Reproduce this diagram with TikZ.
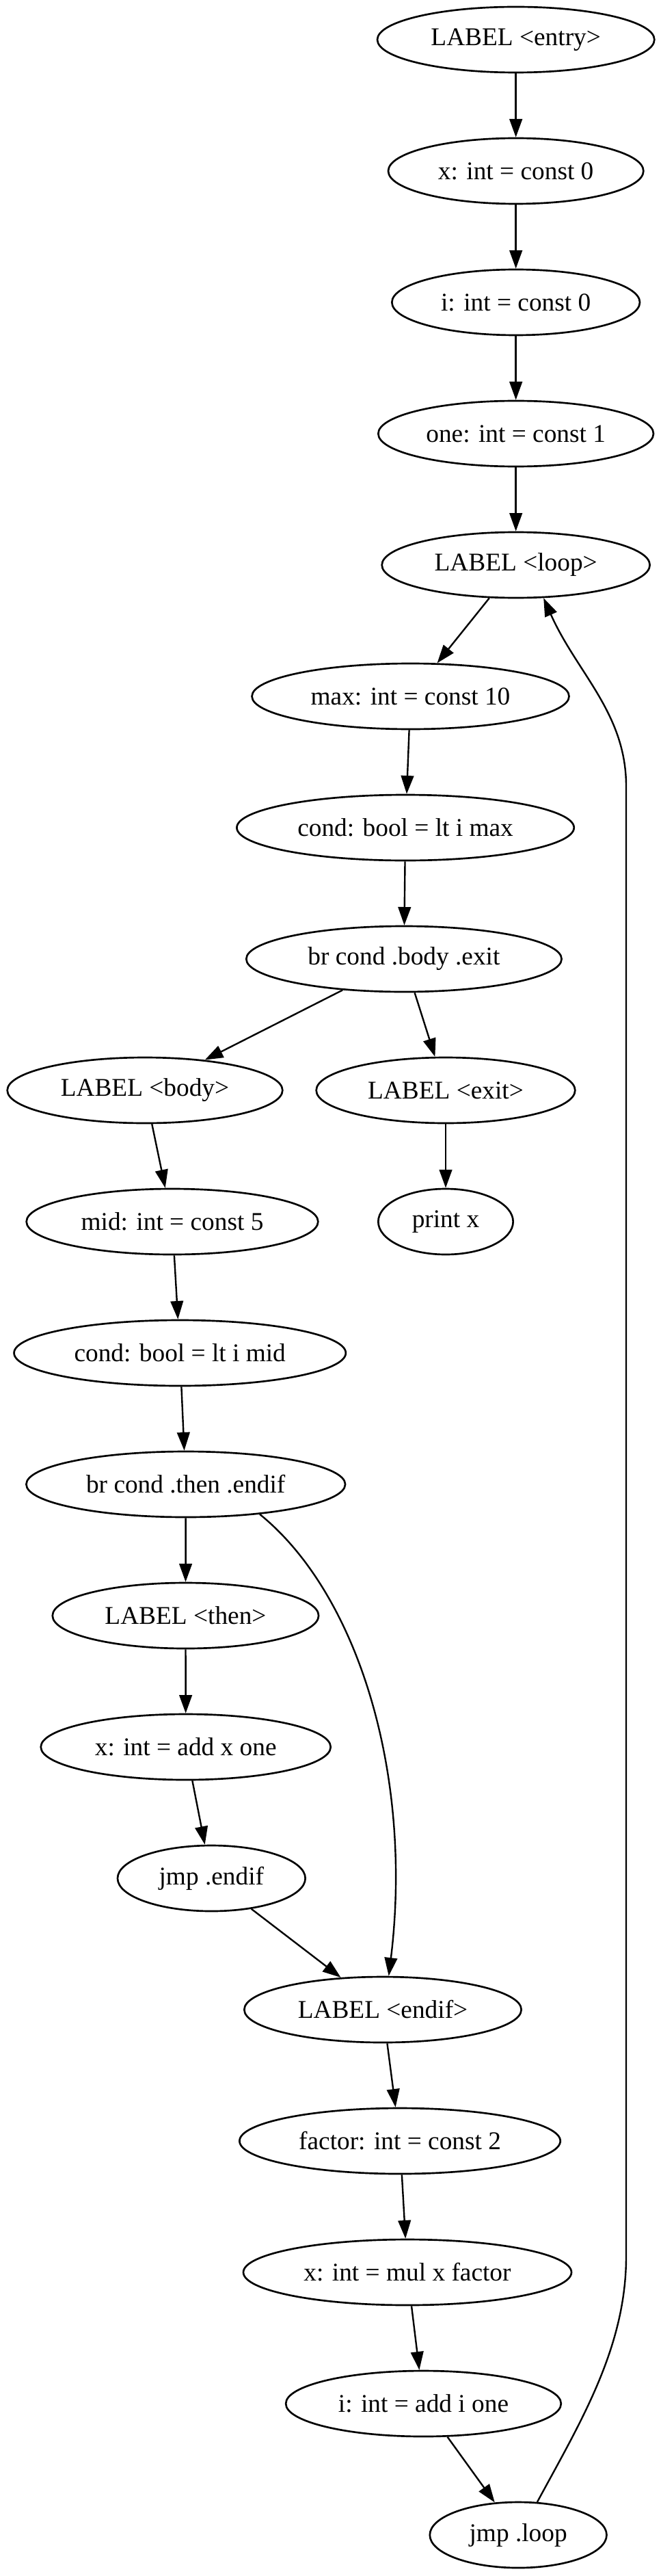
\documentclass[tikz,border=0pt]{standalone}
\usepackage{fontspec}
\setmainfont{Liberation Serif}
\usetikzlibrary{arrows.meta,shapes.geometric}

\begin{document}
\begin{tikzpicture}[x=1pt,y=1pt]
    \tikzset{
      stmt/.style={ellipse,draw=black,line width=1pt,minimum height=36pt,inner sep=0pt,font=\fontsize{14}{16}\selectfont},
      flow/.style={-{Triangle[length=10pt,width=7pt]},draw=black,line width=0.9pt}
    }
    \useasboundingbox (0,0) rectangle (362.25,-1412.25);
    % entry block
    \node[stmt,minimum width=152pt] (entry) at (283,-21.75) {LABEL <entry>};
    \node[stmt,minimum width=140pt] (xinit) at (283,-93.75) {x: int = const 0};
    \node[stmt,minimum width=136pt] (iinit) at (283,-165.75) {i: int = const 0};
    \node[stmt,minimum width=151pt] (oneinit) at (283,-237.75) {one: int = const 1};
    % loop header
    \node[stmt,minimum width=147pt] (loop) at (283,-309.75) {LABEL <loop>};
    \node[stmt,minimum width=174pt] (maxinit) at (225.2,-381.75) {max: int = const 10};
    \node[stmt,minimum width=185pt] (condmax) at (222.4,-453.75) {cond: bool = lt i max};
    \node[stmt,minimum width=173pt] (brbody) at (221.6,-525.75) {br cond .body .exit};
    \node[stmt,minimum width=151pt] (body) at (79.5,-597.75) {LABEL <body>};
    \node[stmt,minimum width=142pt] (exit) at (244.5,-597.75) {LABEL <exit>};
    \node[stmt,minimum width=160pt] (midinit) at (94.5,-669.75) {mid: int = const 5};
    \node[stmt,minimum width=74pt] (printx) at (244.5,-669.75) {print x};
    \node[stmt,minimum width=182pt] (condmid) at (98.7,-741.75) {cond: bool = lt i mid};
    \node[stmt,minimum width=175pt] (brthen) at (101.9,-813.75) {br cond .then .endif};
    % then branch
    \node[stmt,minimum width=146pt] (then) at (101.8,-885.75) {LABEL <then>};
    \node[stmt,minimum width=159pt] (xadd) at (101.9,-957.75) {x: int = add x one};
    \node[stmt,minimum width=103pt] (jmpendif) at (116,-1029.75) {jmp .endif};
    % join
    \node[stmt,minimum width=152pt] (endif) at (210,-1101.75) {LABEL <endif>};
    \node[stmt,minimum width=176pt] (factorinit) at (219.4,-1173.75) {factor: int = const 2};
    \node[stmt,minimum width=180pt] (xmul) at (223.5,-1245.75) {x: int = mul x factor};
    \node[stmt,minimum width=151pt] (iadd) at (232.3,-1317.75) {i: int = add i one};
    \node[stmt,minimum width=97pt] (jmploop) at (284.3,-1389.75) {jmp .loop};
    % back edge route
    \coordinate (backlo) at (343.5,-1237);
    \coordinate (backhi) at (343.5,-431);

    \draw[flow] (entry) -- (xinit);
    \draw[flow] (xinit) -- (iinit);
    \draw[flow] (iinit) -- (oneinit);
    \draw[flow] (oneinit) -- (loop);
    \draw[flow] (loop) -- (maxinit);
    \draw[flow] (maxinit) -- (condmax);
    \draw[flow] (condmax) -- (brbody);
    \draw[flow] (brbody) -- (body);
    \draw[flow] (brbody) -- (exit);
    \draw[flow] (exit) -- (printx);
    \draw[flow] (body) -- (midinit);
    \draw[flow] (midinit) -- (condmid);
    \draw[flow] (condmid) -- (brthen);
    \draw[flow] (brthen) -- (then);
    \draw[flow] (then) -- (xadd);
    \draw[flow] (xadd) -- (jmpendif);
    \draw[flow] (jmpendif) -- (endif);
    \draw[flow] (brthen.-22) .. controls +(-39:70) and +(83:110) .. (endif.80);
    \draw[flow] (endif) -- (factorinit);
    \draw[flow] (factorinit) -- (xmul);
    \draw[flow] (xmul) -- (iadd);
    \draw[flow] (iadd) -- (jmploop);
    \draw[flow] (jmploop.60) .. controls +(61.6:50) and +(-90:50) .. (backlo)
      -- (backhi) .. controls +(90:40) and +(-66:45) .. (loop.-50);
  \end{tikzpicture}
\end{document}
